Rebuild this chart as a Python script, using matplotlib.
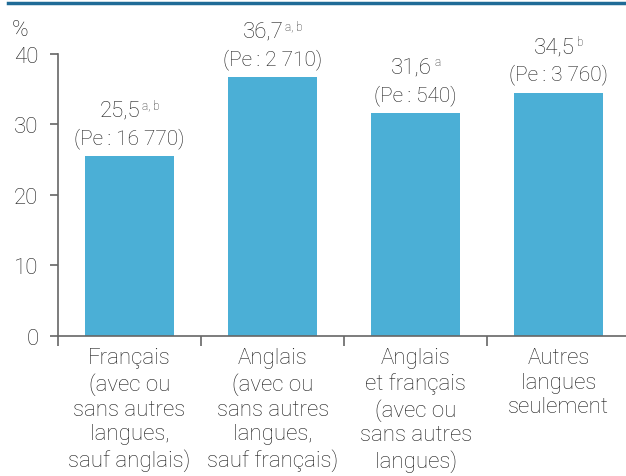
import matplotlib
matplotlib.use('Agg')
import matplotlib.pyplot as plt
from matplotlib.lines import Line2D

categories = ['Français\n(avec ou\nsans autres\nlangues,\nsauf anglais)',
              'Anglais\n(avec ou\nsans autres\nlangues,\nsauf français)',
              'Anglais\net français\n(avec ou\nsans autres\nlangues)',
              'Autres\nlangues\nseulement']
values = [25.5, 36.7, 31.6, 34.5]
value_labels = ['25,5', '36,7', '31,6', '34,5']
notes = ['a, b', 'a, b', 'a', 'b']
pe_labels = ['(Pe\u2009: 16 770)', '(Pe\u2009: 2 710)', '(Pe\u2009: 540)', '(Pe\u2009: 3 760)']
yticks = [0, 10, 20, 30, 40]

plt.rcParams['font.family'] = ['Roboto', 'DejaVu Sans']
plt.rcParams['font.weight'] = 'light'
bar_color = '#4bafd6'
axis_color = '#666666'
text_color = '#1e1e1e'

dpi = 100
fig = plt.figure(figsize=(6.26, 4.77), dpi=dpi)
ax = fig.add_axes([0.0927, 0.2935, 0.9073, 0.5912])

x = list(range(len(values)))
ax.bar(x, values, width=0.62, color=bar_color, zorder=2)
ax.set_xlim(-0.5, 3.47)
ax.set_ylim(0, 40)

for s in ['top', 'right']:
    ax.spines[s].set_visible(False)
for s in ['left', 'bottom']:
    ax.spines[s].set_color(axis_color)
    ax.spines[s].set_linewidth(1.2)

ax.set_yticks(yticks)
ax.set_yticklabels([str(t) for t in yticks], fontsize=16, color=text_color)
ax.tick_params(axis='y', length=6, width=1.2, color=axis_color, pad=8)

ax.set_xticks(x)
ax.set_xticklabels(categories, fontsize=16, color=text_color, linespacing=1.23)
ax.tick_params(axis='x', length=0, pad=8)
ax.set_xticks([-0.5, 0.5, 1.5, 2.5], minor=True)
ax.tick_params(axis='x', which='minor', length=7, width=1.2, color=axis_color)

fig.canvas.draw()
r = fig.canvas.get_renderer()
for i, v in enumerate(values):
    t1 = ax.annotate(value_labels[i], (i, v), xytext=(0, 33), textcoords='offset points',
                     ha='left', va='center', fontsize=16, color=text_color)
    t2 = ax.annotate(notes[i], (i, v), xytext=(0, 37), textcoords='offset points',
                     ha='left', va='center', fontsize=8.5, color=text_color)
    w1 = t1.get_window_extent(r).width * 72 / dpi
    w2 = t2.get_window_extent(r).width * 72 / dpi
    gap = 1.5
    total = w1 + gap + w2
    t1.xyann = (-total / 2, 33)
    t2.xyann = (-total / 2 + w1 + gap, 37)
    ax.annotate(pe_labels[i], (i, v), xytext=(0, 13.5), textcoords='offset points',
                ha='center', va='center', fontsize=15, color=text_color)

fig.text(0.019, 1 - 31 / 477, '%', va='center', ha='left', fontsize=16, color=text_color)
fig.add_artist(Line2D([0.012, 1], [0.9906, 0.9906], transform=fig.transFigure,
                      color='#1f6b97', lw=2.5))

fig.savefig('out.png', dpi=dpi)
